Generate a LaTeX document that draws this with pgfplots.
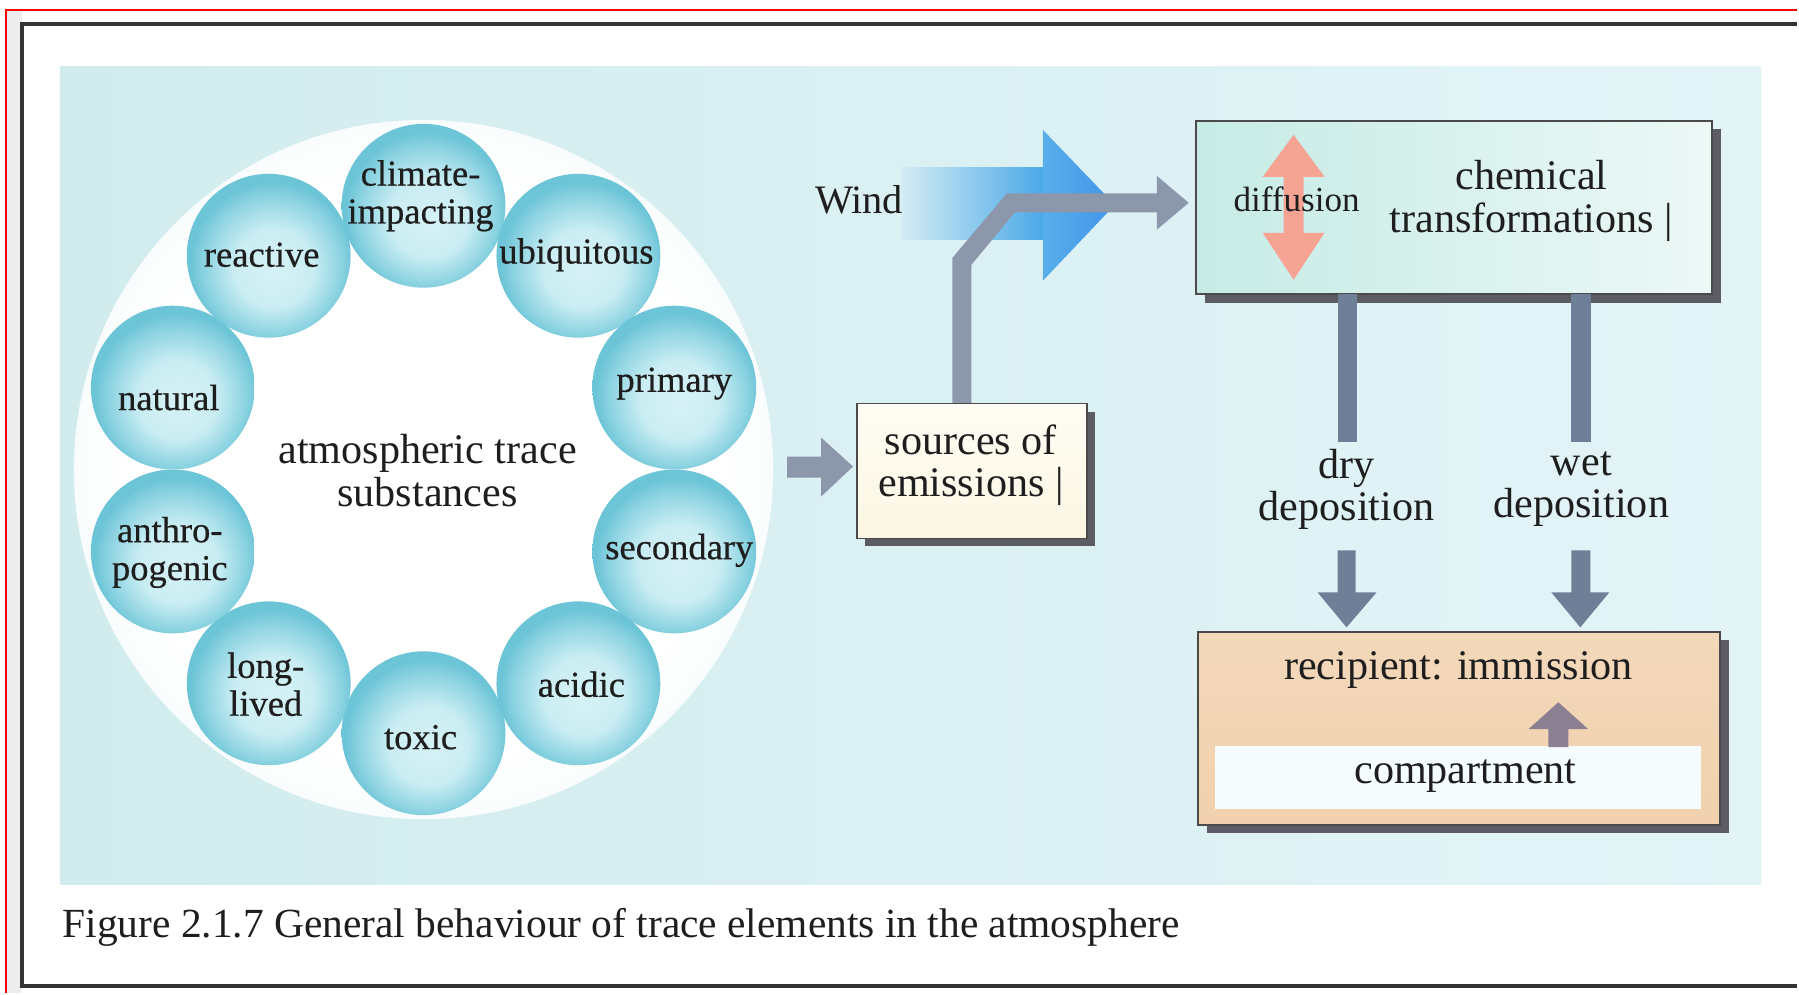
\documentclass[border=0pt]{standalone}
\usepackage{pgfplots}
\pgfplotsset{compat=1.18}
\usepackage{fontspec}
\setmainfont{Liberation Serif}
\newfontfamily\sphfont[FakeBold=0.5]{Liberation Serif}
\definecolor{panelL}{HTML}{D2ECEE}
\definecolor{panelR}{HTML}{E3F4F7}
\definecolor{sphIn}{HTML}{D6F2F6}
\definecolor{sphMid}{HTML}{A6DFEA}
\definecolor{sphOut}{HTML}{6CC4D7}
\definecolor{arrGray}{HTML}{8D97AC}
\definecolor{depGray}{HTML}{6F7F97}
\definecolor{chemL}{HTML}{C6EBE5}
\definecolor{chemR}{HTML}{ECF8F6}
\definecolor{recip}{HTML}{F1D1AE}
\definecolor{cream}{HTML}{FCF7E3}
\definecolor{salmon}{HTML}{F5A393}
\definecolor{windL}{HTML}{D4ECF4}
\definecolor{windR}{HTML}{4AA8E8}
\definecolor{shadowc}{HTML}{5C5C64}
\definecolor{boxline}{HTML}{4A4A4A}
\definecolor{txt}{HTML}{1E1E1E}
\definecolor{mauve}{HTML}{8A8092}
\pgfdeclareradialshading{sph}{\pgfpoint{2bp}{-5bp}}{color(0bp)=(sphIn); color(12bp)=(sphIn!75!sphMid); color(21bp)=(sphMid!55!sphOut); color(25bp)=(sphOut); color(50bp)=(sphOut)}
\pgfdeclareradialshading{halo}{\pgfpoint{0bp}{0bp}}{color(0bp)=(white); color(20bp)=(white); color(24bp)=(white!93!panelL); color(25bp)=(white!85!panelL); color(50bp)=(panelL)}
\pgfplotsset{
  lab/.style={draw=none, mark=none, nodes near coords={#1},
    every node near coord/.append style={anchor=center, align=center, text=txt, inner sep=0pt,
      font=\sphfont\fontsize{10.4}{10.8}\selectfont}},
  bigLab/.style={draw=none, mark=none, nodes near coords={#1},
    every node near coord/.append style={anchor=center, align=center, text=txt, inner sep=0pt,
      font=\fontsize{12}{12.2}\selectfont}},
}
\begin{document}
\begin{tikzpicture}
\begin{axis}[
  width=179.9mm, height=99.4mm, scale only axis,
  xmin=0, xmax=1799, ymin=0, ymax=994, y dir=reverse,
  hide axis, clip=false,
]
% page background and frame
\addplot[fill=white, draw=none] coordinates {(0,0)(1799,0)(1799,994)(0,994)} --cycle;
\addplot[fill=black!7, draw=none] coordinates {(7,10)(22,10)(22,994)(7,994)} --cycle;
\addplot[draw=red, line width=0.7pt] coordinates {(6,994)(6,10)(1799,10)};
\addplot[draw=black!80, line width=1.1pt] coordinates {(1799,24)(22,24)(22,987)(1799,987)};
% panel
\addplot[left color=panelL, right color=panelR, draw=none] coordinates {(60,67)(1763,67)(1763,885)(60,885)} --cycle;
% halo circle
\addplot[draw=none, mark=none, nodes near coords={},
  every node near coord/.append style={anchor=center, circle, inner sep=0pt, minimum size=70mm, shade, shading=halo, draw=none}]
  coordinates {(424,470)};
% spheres
\addplot[draw=none, mark=none, nodes near coords={},
  every node near coord/.append style={anchor=center, circle, inner sep=0pt, minimum size=16.4mm, shade, shading=sph, draw=none}]
  coordinates {(424,206) (579,256) (675,388) (675,552) (579,684) (424,734) (269,684) (173,552) (173,388) (269,256)};
% sphere labels
\addplot[lab={climate-\\impacting}] coordinates {(421,196)};
\addplot[lab={reactive}] coordinates {(262,255)};
\addplot[lab={ubiquitous}] coordinates {(577,255)};
\addplot[lab={primary}] coordinates {(675,384)};
\addplot[lab={natural}] coordinates {(169,398)};
\addplot[lab={secondary}] coordinates {(680,551)};
\addplot[lab={anthro-\\pogenic}] coordinates {(170,553)};
\addplot[lab={acidic}] coordinates {(582,685)};
\addplot[lab={long-\\lived}] coordinates {(266,685)};
\addplot[lab={toxic}] coordinates {(421,738)};
\addplot[bigLab={atmospheric trace\\substances}] coordinates {(428,471)};
% left gray arrow
\addplot[fill=arrGray, draw=none] coordinates {(788,457)(822,457)(822,438)(854,467)(822,497)(822,478)(788,478)} --cycle;
% wind arrow
\addplot[left color=windL, right color=windR, draw=none] coordinates {(902,168)(1046,168)(1046,240)(902,240)} --cycle;
\addplot[left color=windR!92!white, right color=windR!88!blue, draw=none] coordinates {(1044,130)(1116,205)(1044,281)} --cycle;
\node[text=txt, font=\fontsize{11.5}{12}\selectfont] at (860,200) {Wind};
% gray bent arrow from sources to chemical box
\addplot[fill=arrGray, draw=none] coordinates {(953.5,404)(953.5,258)(1008,193.5)(1158,193.5)(1158,176)(1190,203)(1158,230)(1158,212.5)(1016,212.5)(972.5,265)(972.5,404)} --cycle;
% sources box
\addplot[fill=shadowc, draw=none] coordinates {(866,412)(1096,412)(1096,547)(866,547)} --cycle;
\addplot[top color=white!60!cream, bottom color=cream, draw=boxline, line width=0.5pt] coordinates {(858,404)(1088,404)(1088,539)(858,539)} --cycle;
\node[align=center, text=txt, font=\fontsize{12}{12}\selectfont] at (972,466) {sources of\\emissions |};
% chemical box
\addplot[fill=shadowc, draw=none] coordinates {(1206,129)(1723,129)(1723,303)(1206,303)} --cycle;
\addplot[left color=chemL, right color=chemR, draw=boxline, line width=0.5pt] coordinates {(1197,121)(1714,121)(1714,294)(1197,294)} --cycle;
% diffusion double arrow
\addplot[fill=salmon, draw=none] coordinates {(1295,135)(1326,177)(1305,177)(1305,233)(1326,233)(1295,280)(1264,233)(1285,233)(1285,177)(1264,177)} --cycle;
\node[text=txt, font=\fontsize{10}{10}\selectfont] at (1298,200) {diffusion};
\node[align=center, text=txt, font=\fontsize{12}{12.2}\selectfont] at (1533,201) {chemical\\transformations |};
% deposition bars
\addplot[fill=depGray, draw=none] coordinates {(1339,294)(1358,294)(1358,442)(1339,442)} --cycle;
\addplot[fill=depGray, draw=none] coordinates {(1573,294)(1593,294)(1593,442)(1573,442)} --cycle;
\node[align=center, text=txt, font=\fontsize{12}{12}\selectfont] at (1348,490) {dry\\deposition};
\node[align=center, text=txt, font=\fontsize{12}{12}\selectfont] at (1583,490) {wet\\deposition};
% deposition arrows
\addplot[fill=depGray, draw=none] coordinates {(1339,551)(1357,551)(1357,593)(1378,593)(1348,628)(1319,593)(1339,593)} --cycle;
\addplot[fill=depGray, draw=none] coordinates {(1573,551)(1592,551)(1592,593)(1611,593)(1582,628)(1553,593)(1573,593)} --cycle;
% recipient box
\addplot[fill=shadowc, draw=none] coordinates {(1208,641)(1731,641)(1731,834)(1208,834)} --cycle;
\addplot[top color=recip!85!white, bottom color=recip, draw=boxline, line width=0.5pt] coordinates {(1199,633)(1722,633)(1722,826)(1199,826)} --cycle;
\addplot[fill=white!96!cyan, draw=none] coordinates {(1216,747)(1703,747)(1703,810)(1216,810)} --cycle;
\addplot[fill=mauve, draw=none] coordinates {(1550,748)(1550,730)(1530,730)(1560,703)(1590,730)(1570,730)(1570,748)} --cycle;
\node[text=txt, font=\fontsize{12}{12}\selectfont] at (1460,671) {recipient: immission};
\node[text=txt, font=\fontsize{12}{12}\selectfont] at (1467,777) {compartment};
% caption
\node[anchor=base west, text=txt, font=\fontsize{11.8}{13}\selectfont, inner sep=0pt] at (62,938) {Figure 2.1.7 General behaviour of trace elements in the atmosphere};
\end{axis}
\end{tikzpicture}
\end{document}
